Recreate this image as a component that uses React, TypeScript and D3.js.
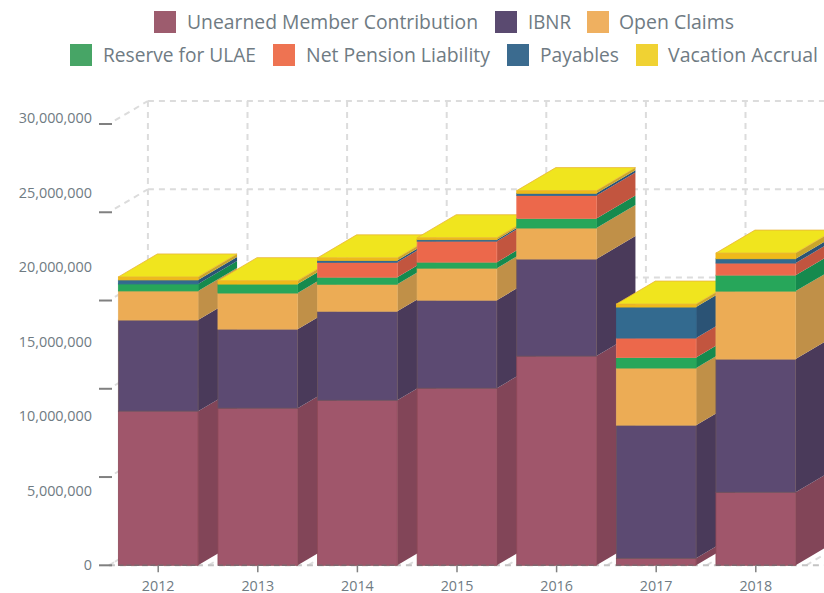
import React from "react";
import * as d3 from "d3";

const years = ["2012", "2013", "2014", "2015", "2016", "2017", "2018"];
const unearned = [10.34, 10.54, 11.07, 11.88, 14.03, 0.47, 4.9];
const ibnr = [6.11, 5.3, 5.97, 5.9, 6.51, 8.93, 8.93];
const openClaims = [1.95, 2.42, 1.81, 2.15, 2.08, 3.83, 4.56];
const ulae = [0.47, 0.6, 0.47, 0.4, 0.64, 0.7, 1.07];
const pension = [0, 0, 1.0, 1.41, 1.54, 1.31, 0.81];
const payables = [0.27, 0, 0.13, 0.1, 0.15, 2.08, 0.29];
const vacation = [0.2, 0.23, 0.17, 0.13, 0.18, 0.2, 0.38];
const yLabels = [0, 5, 10, 15, 20, 25, 30];
const gridSteps = [0, 6, 12, 18, 24, 30];

const seriesNames = ["Unearned Member Contribution", "IBNR", "Open Claims", "Reserve for ULAE", "Net Pension Liability", "Payables", "Vacation Accrual"];
const seriesValues = [unearned, ibnr, openClaims, ulae, pension, payables, vacation];
const fronts = ["#a0566b", "#5c4a72", "#ecac55", "#27a65a", "#ec684b", "#336a8f", "#efb91a"];
const sides = ["#824558", "#4a3a5a", "#c09048", "#158a4e", "#c2553f", "#2b5375", "#c9a52b"];
const strokes = ["#8f4a58", "#6b5560", "#e8b060", "#27a65a", "#ee7a60", "#336a8f", "#efb91a"];
const swatches = ["#9d5c6e", "#5a4a70", "#efb060", "#47a566", "#ee7352", "#3b6b8f", "#f0d233"];
const topColor = "#f0e51e";

const legendSwatchX = [154, 495, 587, 70, 273, 507, 636];
const legendTextX = [187, 528, 619, 103, 306, 540, 668];
const legendTextW = [291, 43, 115, 153, 184, 79, 150];
const legendRowY = [22, 22, 22, 55, 55, 55, 55];

const W = 824, H = 593;
const dx = 39, dy = 23;
const floorY = 565.3;

const x = d3.scaleBand<string>().domain(years).range([108.4, 108.4 + 7 * 99.6]).paddingInner(0.2).paddingOuter(0.1);
const y = d3.scaleLinear().domain([0, 30]).range([floorY, 118]);
const gridY = d3.scaleLinear().domain([0, 30]).range([floorY, 124]);
const fmt = d3.format(",");
const gridXs = d3.range(0, 8).map((i) => 108.9 + i * 99.6);

const stack = d3.stack<number>()
  .keys(seriesNames.map((_, i) => i) as any)
  .value((i: any, k: any) => seriesValues[k][i])(d3.range(years.length) as any);

const poly = (pts: [number, number][]) => pts.map((p) => p.join(",")).join(" ");
const font = "'Open Sans', sans-serif";
const textColor = "#6f7b83";
const gridColor = "#dcdcdc";

export default function App() {
  return (
    <svg width={W} height={H} style={{ position: "absolute", left: 0, top: 0, display: "block", background: "#fff" }} fontFamily={font}>
      {seriesNames.map((n, i) => (
        <g key={n}>
          <rect x={legendSwatchX[i]} y={legendRowY[i] - 11} width={22} height={22} fill={swatches[i]} />
          <text x={legendTextX[i]} y={legendRowY[i] + 7} fontSize={19.5} fill={textColor} textLength={legendTextW[i]} lengthAdjust="spacingAndGlyphs">{n}</text>
        </g>
      ))}

      <g fill="none" stroke={gridColor} strokeWidth={2} strokeDasharray="6 5">
        {gridSteps.map((v) => (
          <g key={v}>
            <line x1={gridXs[0] + dx} x2={W + 10} y1={gridY(v) - dy} y2={gridY(v) - dy} />
            <line x1={gridXs[0] + 6} y1={gridY(v) - (dy * 6) / dx} x2={gridXs[0] + dx} y2={gridY(v) - dy} />
          </g>
        ))}
        {gridXs.map((gx) => (
          <g key={gx}>
            <line x1={gx + dx} x2={gx + dx} y1={gridY(30) - dy} y2={gridY(0) - dy} />
            <line x1={gx} y1={gridY(0)} x2={gx + dx} y2={gridY(0) - dy} />
          </g>
        ))}
        <line x1={gridXs[0]} x2={W + 10} y1={floorY} y2={floorY} stroke="#c4c4c4" />
      </g>

      {years.map((yr, i) => {
        const x0 = x(yr)!;
        const x1 = x0 + x.bandwidth();
        const top = y(stack[stack.length - 1][i][1]);
        return (
          <g key={yr}>
            {stack.map((s, k) => {
              const yb = y(s[i][0]);
              const yt = y(s[i][1]);
              if (seriesValues[k][i] === 0) return null;
              return (
                <g key={k}>
                  <polygon points={poly([[x1, yb], [x1 + dx, yb - dy], [x1 + dx, yt - dy], [x1, yt]])} fill={sides[k]} />
                  <rect x={x0} y={yt} width={x1 - x0} height={yb - yt} fill={fronts[k]} stroke={strokes[k]} strokeWidth={0.8} />
                </g>
              );
            })}
            <polygon points={poly([[x0, top], [x0 + dx, top - dy], [x1 + dx, top - dy], [x1, top]])} fill={topColor} stroke="#e8b53a" strokeWidth={0.8} />
            <line x1={x0} x2={x1} y1={floorY} y2={floorY} stroke="#7d6a70" strokeWidth={1.5} strokeDasharray="5 3" />
            <line x1={(x0 + x1) / 2} x2={(x0 + x1) / 2} y1={floorY} y2={floorY + 7} stroke="#808080" strokeWidth={1.5} />
            <text x={(x0 + x1) / 2} y={591} fontSize={14.3} fill={textColor} textAnchor="middle">{yr}</text>
          </g>
        );
      })}

      {gridSteps.map((v) => (
        <line key={v} x1={99} x2={112} y1={gridY(v)} y2={gridY(v)} stroke="#808080" strokeWidth={2} />
      ))}
      {yLabels.map((v) => (
        <text key={v} x={92} y={y(v) + 5} fontSize={14.4} fill={textColor} textAnchor="end">{fmt(v * 1000000)}</text>
      ))}
    </svg>
  );
}
